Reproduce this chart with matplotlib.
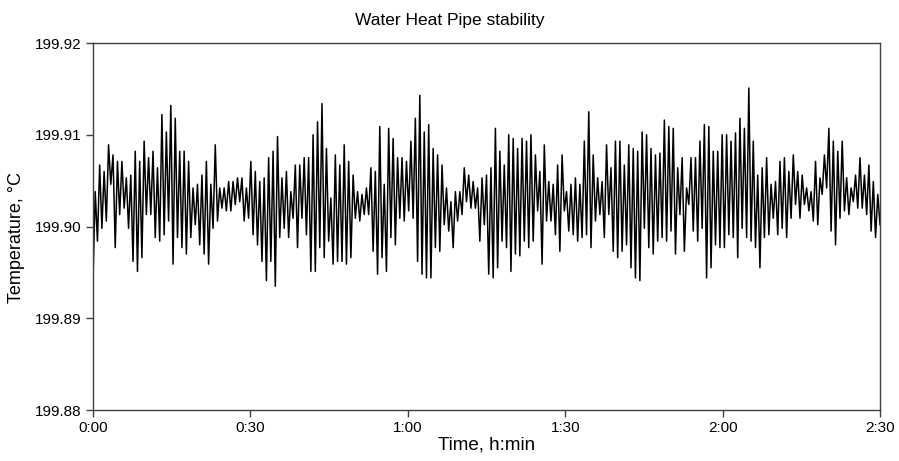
import numpy as np
import matplotlib.pyplot as plt
from matplotlib.ticker import FixedLocator, FixedFormatter

# ==========================================
# DATA (alternating peaks / troughs)
# ==========================================
seg_1 = [199.8942, 199.9038, 199.8984, 199.9067, 199.8998, 199.9060, 199.9006, 199.9089,
         199.9046, 199.9078, 199.8977, 199.9071, 199.9013, 199.9071, 199.9020, 199.9053,
         199.8998, 199.9056, 199.8962, 199.9082, 199.8951, 199.9071, 199.8966, 199.9093,
         199.9013, 199.9075, 199.9013, 199.9082, 199.8988, 199.9064, 199.8984, 199.9122,
         199.8991, 199.9103]
seg_2 = [199.9006, 199.9132, 199.8959, 199.9118, 199.8988, 199.9082, 199.8977, 199.9082,
         199.8970, 199.9071, 199.8988, 199.9042, 199.9002, 199.9046, 199.8980, 199.9056,
         199.8970, 199.9071, 199.8959, 199.9046, 199.8998, 199.9089, 199.9006, 199.9042,
         199.9020, 199.9042, 199.9017, 199.9049, 199.9017, 199.9049, 199.9024, 199.9053,
         199.9027, 199.9053, 199.9006, 199.9042]
seg_3 = [199.9009, 199.9071, 199.8991, 199.9060, 199.8980, 199.9049, 199.8962, 199.9053,
         199.8941, 199.9075, 199.8962, 199.9082, 199.8935, 199.9098, 199.8988, 199.9053,
         199.8998, 199.9060, 199.8988, 199.9038, 199.9009, 199.9067, 199.8977, 199.9067,
         199.9009, 199.9075, 199.8991, 199.9075, 199.8951, 199.9100, 199.8951, 199.9114,
         199.8977, 199.9134, 199.8966, 199.9085]
seg_4 = [199.8984, 199.9031, 199.8959, 199.9078, 199.8962, 199.9067, 199.8962, 199.9089,
         199.8959, 199.9071, 199.8966, 199.9056, 199.9009, 199.9038, 199.9006, 199.9035,
         199.9013, 199.9042, 199.9013, 199.9064, 199.8973, 199.9060, 199.8948, 199.9109,
         199.8966, 199.9046, 199.8951, 199.9107, 199.8988, 199.9096, 199.8980, 199.9075,
         199.9009, 199.9075, 199.9006]
seg_5 = [199.9071, 199.9017, 199.9093, 199.9009, 199.9118, 199.8962, 199.9143, 199.8948,
         199.9103, 199.8944, 199.9111, 199.8944, 199.9085, 199.8977, 199.9078, 199.8973,
         199.9067, 199.9002, 199.9042, 199.8995, 199.9027, 199.8977, 199.9038, 199.9006,
         199.9038, 199.9013, 199.9064, 199.9027, 199.9056, 199.9020, 199.9049, 199.9020,
         199.9042, 199.8984, 199.9053, 199.9002, 199.9056, 199.8948]
seg_6 = [199.9064, 199.8944, 199.9107, 199.8955, 199.9082, 199.8984, 199.9067, 199.8977,
         199.9100, 199.8951, 199.9096, 199.8970, 199.9085, 199.8968, 199.9096, 199.8984,
         199.9093, 199.8977, 199.9100, 199.8984, 199.9078, 199.9017, 199.9060, 199.8959,
         199.9089, 199.9006, 199.9049, 199.9006, 199.9046, 199.8991, 199.9067, 199.8973,
         199.9078, 199.9017, 199.9038]
seg_7 = [199.8995, 199.9046, 199.8991, 199.9053, 199.8984, 199.9046, 199.8988, 199.9093,
         199.8991, 199.9125, 199.8977, 199.9078, 199.9006, 199.9053, 199.9013, 199.9049,
         199.8988, 199.9089, 199.9013, 199.9064, 199.8973, 199.9093, 199.8966, 199.9093,
         199.8973, 199.9067, 199.8980, 199.9089, 199.8955, 199.9085, 199.8944, 199.9082,
         199.8941, 199.9103]
seg_8 = [199.8998, 199.9100, 199.8977, 199.9085, 199.8970, 199.9078, 199.8984, 199.9080,
         199.8988, 199.9116, 199.8984, 199.9109, 199.8995, 199.9107, 199.8970, 199.9064,
         199.9013, 199.9075, 199.8973, 199.9042, 199.9024, 199.9075, 199.8995, 199.9075,
         199.8984, 199.9093, 199.8998, 199.9111, 199.8944, 199.9109, 199.8955, 199.9082,
         199.8980, 199.9082, 199.8977, 199.9100, 199.8977]
seg_9 = [199.9100, 199.8991, 199.9093, 199.8988, 199.9102, 199.8966, 199.9118, 199.8998,
         199.9107, 199.8988, 199.9151, 199.8984, 199.9093, 199.8977, 199.9056, 199.8955,
         199.9064, 199.8988, 199.9075, 199.8991, 199.9046, 199.9009, 199.9049, 199.8991,
         199.9071, 199.8998, 199.9075, 199.8988, 199.9060, 199.9009, 199.9078, 199.9024,
         199.9060, 199.9009, 199.9056, 199.9024, 199.9042]
seg_10 = [199.9017, 199.9038, 199.9006, 199.9071, 199.9002, 199.9053, 199.9035, 199.9078,
          199.9042, 199.9107, 199.8995, 199.9093, 199.8980, 199.9082, 199.9009, 199.9093,
          199.9017, 199.9053, 199.9013, 199.9042, 199.9027, 199.9056, 199.9020, 199.9075,
          199.9020, 199.9056, 199.9013, 199.9067, 199.8995, 199.9049, 199.8988, 199.9035,
          199.9002]

temperature = np.array(seg_1 + seg_2 + seg_3 + seg_4 + seg_5 + seg_6 + seg_7 +
                       seg_8 + seg_9 + seg_10)
duration_min = 150
time_min = np.linspace(0, duration_min, len(temperature))

y_ticks = [199.88, 199.89, 199.90, 199.91, 199.92]
x_ticks = [0, 30, 60, 90, 120, 150]
x_labels = ["0:00", "0:30", "1:00", "1:30", "2:00", "2:30"]

# ==========================================
# PLOT
# ==========================================
plt.rcParams['font.family'] = ['Liberation Sans', 'DejaVu Sans']

fig = plt.figure(figsize=(8.99, 4.61), dpi=100)
ax = fig.add_axes([93 / 899, 51 / 461, 787 / 899, 367 / 461])

ax.plot(time_min, temperature, color='black', linewidth=1.1)

ax.set_xlim(0, duration_min)
ax.set_ylim(199.88, 199.92)
ax.xaxis.set_major_locator(FixedLocator(x_ticks))
ax.xaxis.set_major_formatter(FixedFormatter(x_labels))
ax.set_yticks(y_ticks)
ax.set_yticklabels([f"{v:.2f}" for v in y_ticks])

for side in ['left', 'bottom', 'top', 'right']:
    ax.spines[side].set_color('#404040')
    ax.spines[side].set_linewidth(1.0)
ax.tick_params(direction='out', length=5, width=1.0, color='#404040',
               labelcolor='black', labelsize=11, pad=3)

# title is centred on the whole figure, not on the axes
fig.text(0.5, 1 - 20 / 461, "Water Heat Pipe stability", ha='center', va='center',
         fontsize=12.5)
ax.set_xlabel("Time, h:min", fontsize=13.5, labelpad=1)
ax.set_ylabel("Temperature, °C", fontsize=13)
ax.yaxis.set_label_coords(-0.086, 0.47)

fig.savefig("out.png", dpi=100)
